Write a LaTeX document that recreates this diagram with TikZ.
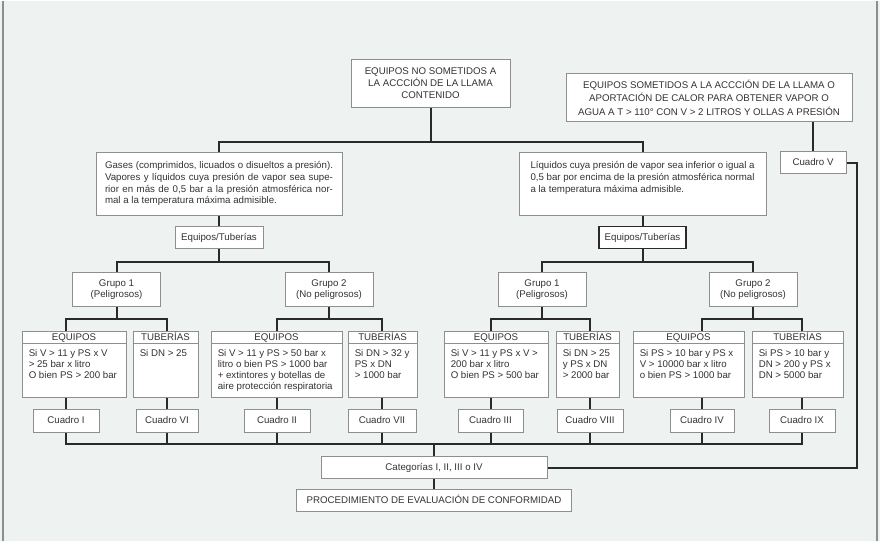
\documentclass[tikz,border=0pt]{standalone}
\usepackage{fontspec}
\setmainfont{Liberation Sans}
\usetikzlibrary{calc}
\definecolor{bgc}{HTML}{EEF2F1}
\definecolor{txtc}{HTML}{333333}
\definecolor{bordc}{HTML}{8E8E8E}
\definecolor{connc}{HTML}{2A2A2A}
\pgfdeclarelayer{back}
\pgfdeclarelayer{conn}
\pgfsetlayers{back,conn,main}
\newcommand\lvbox[6]{%
  \node[box, minimum width={(#3-#2)*1pt}, minimum height=66pt] (#1) at ({(#2+#3)/2},364) {};
  \draw[draw=bordc, line width=0.9pt] ([yshift=-12pt]#1.north west) -- ([yshift=-12pt]#1.north east);
  \node[txt, text height=7pt, text depth=0pt] (#1h) at ([yshift=-6pt]#1.north) {#5};
  \node[txt, align=left, anchor=north west] (#1b) at ([xshift=7pt,yshift=-18.5pt]#1.north west) {#6};
  \coordinate (#1in) at (#4,331);
}
\begin{document}
\begin{tikzpicture}[x=1pt,y=-1pt,
  box/.style={draw=bordc, line width=0.9pt, fill=white, inner sep=0pt, text=txtc,
    font=\fontsize{9.7}{12}\selectfont},
  one/.style={box, text height=7pt, text depth=2pt},
  conn/.style={draw=connc, line width=2pt},
  txt/.style={text=txtc, inner sep=0pt, font=\fontsize{9.7}{11}\selectfont}]
\begin{pgfonlayer}{back}
  \fill[bgc] (0,0) rectangle (880,540);
  \draw[bordc, line width=1.2pt] (3,0) -- (3,540);
  \draw[bordc, line width=1.2pt] (877,0) -- (877,540);
\end{pgfonlayer}
\useasboundingbox (0,0) rectangle (880,540);

% top level
\node[box, minimum width=159pt, minimum height=48pt, align=center] (top) at (430.5,83)
  {EQUIPOS NO SOMETIDOS A\\LA ACCCIÓN DE LA LLAMA\\CONTENIDO};
\node[box, minimum width=286pt, minimum height=48pt, align=center,
  font=\fontsize{9.7}{13.3}\selectfont] (hot) at (709,97)
  {EQUIPOS SOMETIDOS A LA ACCCIÓN DE LA LLAMA O\\APORTACIÓN DE CALOR PARA OBTENER VAPOR O\\AGUA A T > 110° CON V > 2 LITROS Y OLLAS A PRESIÓN};
\node[one, minimum width=66pt, minimum height=22pt] (c5) at (813,162) {Cuadro V};

% fluids
\node[box, minimum width=246pt, minimum height=63pt, align=left,
  font=\fontsize{9.7}{11.7}\selectfont] (gas) at (219,183.5)
  {\strut\makebox[228pt][s]{Gases (comprimidos, licuados o disueltos a presión).}\\
   \makebox[228pt][s]{Vapores y líquidos cuya presión de vapor sea supe-}\\
   \makebox[228pt][s]{rior en más de 0,5 bar a la presión atmosférica nor-}\\
   mal a la temperatura máxima admisible.\strut};
\node[box, minimum width=247pt, minimum height=63pt, align=left,
  font=\fontsize{9.7}{11.7}\selectfont] (liq) at (642.5,183.5)
  {\strut\makebox[224pt][s]{Líquidos cuya presión de vapor sea inferior o igual a}\\
   \makebox[224pt][s]{0,5 bar por encima de la presión atmosférica normal}\\
   a la temperatura máxima admisible.\\
   \strut};

\node[one, minimum width=88pt, minimum height=22pt] (et1) at (219,237) {Equipos/Tuberías};
\node[one, draw=connc, line width=1.3pt, minimum width=87pt, minimum height=22pt] (et2) at (642.5,237) {Equipos/Tuberías};

% groups
\tikzset{grp/.style={box, minimum width=88pt, minimum height=34pt, align=center,
  font=\fontsize{9.7}{10.8}\selectfont}}
\node[grp] (g1) at (116.5,289) {Grupo 1\\(Peligrosos)};
\node[grp] (g2) at (329,289) {Grupo 2\\(No peligrosos)};
\node[grp] (g3) at (542,289) {Grupo 1\\(Peligrosos)};
\node[grp] (g4) at (753,289) {Grupo 2\\(No peligrosos)};

% level 3
\lvbox{e1}{22}{126}{66}{EQUIPOS}{Si V > 11 y PS x V\\> 25 bar x litro\\O bien PS > 200 bar}
\lvbox{t1}{133}{198}{167}{TUBERÍAS}{Si DN > 25}
\lvbox{e2}{211}{342}{277}{EQUIPOS}{Si V > 11 y PS > 50 bar x\\litro o bien PS > 1000 bar\\+ extintores y botellas de\\aire protección respiratoria}
\lvbox{t2}{348}{417}{382}{TUBERÍAS}{Si DN > 32 y\\PS x DN\\> 1000 bar}
\lvbox{e3}{444}{548}{490.5}{EQUIPOS}{Si V > 11 y PS x V >\\200 bar x litro\\O bien PS > 500 bar}
\lvbox{t3}{556}{619}{590}{TUBERÍAS}{Si DN > 25\\y PS x DN\\> 2000 bar}
\lvbox{e4}{633}{744}{702}{EQUIPOS}{Si PS > 10 bar y PS x\\V > 10000 bar x litro\\o bien PS > 1000 bar}
\lvbox{t4}{752}{843}{802}{TUBERÍAS}{Si PS > 10 bar y\\DN > 200 y PS x\\DN > 5000 bar}

% cuadros
\tikzset{cua/.style={one, minimum height=23pt}}
\node[cua, minimum width=66pt] (cI) at (66,420.5) {Cuadro I};
\node[cua, minimum width=62pt] (cVI) at (167,420.5) {Cuadro VI};
\node[cua, minimum width=66pt] (cII) at (277,420.5) {Cuadro II};
\node[cua, minimum width=68pt] (cVII) at (382,420.5) {Cuadro VII};
\node[cua, minimum width=65pt] (cIII) at (490.5,420.5) {Cuadro III};
\node[cua, minimum width=66pt] (cVIII) at (590,420.5) {Cuadro VIII};
\node[cua, minimum width=64pt] (cIV) at (702,420.5) {Cuadro IV};
\node[cua, minimum width=66pt] (cIX) at (802,420.5) {Cuadro IX};

% bottom
\node[one, minimum width=226pt, minimum height=22pt] (cat) at (434,467) {Categorías I, II, III o IV};
\node[one, minimum width=275pt, minimum height=22pt] (proc) at (434,500) {PROCEDIMIENTO DE EVALUACIÓN DE CONFORMIDAD};

\coordinate (j0) at (430.5,141);
\coordinate (j1) at (219,261);
\coordinate (j2) at (642.5,261);
\coordinate (jb) at (434,443);

\begin{pgfonlayer}{conn}
  \draw[conn] (top.south) -- (j0);
  \draw[conn] (gas.north) |- (j0) -| (liq.north);
  \draw[conn] (gas.south) -- (et1.north);
  \draw[conn] (liq.south) -- (et2.north);
  \draw[conn] (et1.south) -- (j1);
  \draw[conn] (et2.south) -- (j2);
  \draw[conn] (g1.north) |- (j1) -| (g2.north);
  \draw[conn] (g3.north) |- (j2) -| (g4.north);
  % groups to level 3
  \draw[conn] (g1.south) -- ++(0,12);
  \draw[conn] (e1in) -- ++(0,-13) -| (t1in);
  \draw[conn] (g2.south) -- ++(0,12);
  \draw[conn] (e2in) -- ++(0,-13) -| (t2in);
  \draw[conn] (g3.south) -- ++(0,12);
  \draw[conn] (e3in) -- ++(0,-13) -| (t3in);
  \draw[conn] (g4.south) -- ++(0,12);
  \draw[conn] (e4in) -- ++(0,-13) -| (t4in);
  % level 3 to cuadros
  \draw[conn] (cI.north) -- (cI.north |- e1.south);
  \draw[conn] (cVI.north) -- (cVI.north |- t1.south);
  \draw[conn] (cII.north) -- (cII.north |- e2.south);
  \draw[conn] (cVII.north) -- (cVII.north |- t2.south);
  \draw[conn] (cIII.north) -- (cIII.north |- e3.south);
  \draw[conn] (cVIII.north) -- (cVIII.north |- t3.south);
  \draw[conn] (cIV.north) -- (cIV.north |- e4.south);
  \draw[conn] (cIX.north) -- (cIX.north |- t4.south);
  % cuadros to bus
  \draw[conn] (cI.south) |- (cIX.south |- jb) -- (cIX.south);
  \draw[conn] (cVI.south) -- (cVI.south |- jb);
  \draw[conn] (cII.south) -- (cII.south |- jb);
  \draw[conn] (cVII.south) -- (cVII.south |- jb);
  \draw[conn] (cIII.south) -- (cIII.south |- jb);
  \draw[conn] (cVIII.south) -- (cVIII.south |- jb);
  \draw[conn] (cIV.south) -- (cIV.south |- jb);
  \draw[conn] (jb) -- (cat.north);
  \draw[conn] (cat.south) -- (proc.north);
  % right branch
  \draw[conn] (c5.north) -- (c5.north |- hot.south);
  \draw[conn] (c5.east) -- ++(11,0) |- (cat.east);
\end{pgfonlayer}
\end{tikzpicture}
\end{document}
